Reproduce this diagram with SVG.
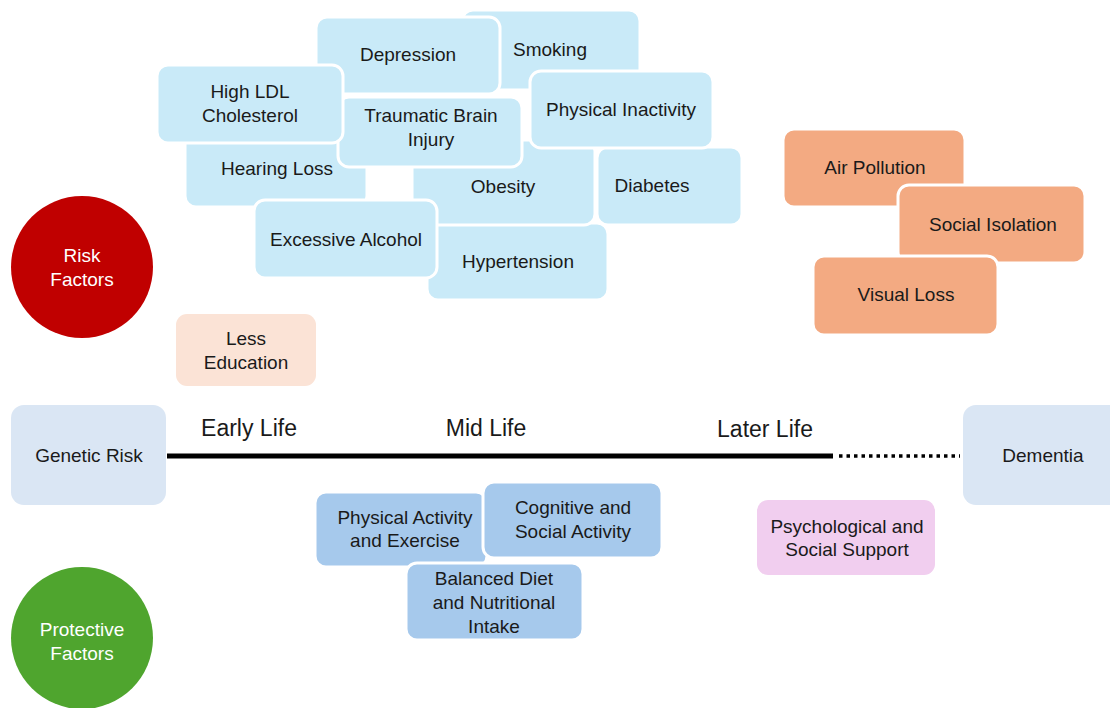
<svg xmlns="http://www.w3.org/2000/svg" width="1110" height="708" viewBox="0 0 1110 708">
<style>
text{font-family:"Liberation Sans",Arial,sans-serif;font-size:19px;fill:#1a1a1a;text-anchor:middle}
.lbl{font-size:23px}
.w{fill:#ffffff}
rect{stroke:#ffffff;stroke-width:3}
.rb{fill:#C9EAF8}
.or{fill:#F3AA82}
.le{fill:#FBE3D6;stroke:none}
.gd{fill:#DAE6F4;stroke:none}
.pb{fill:#A6C9EC}
.ps{fill:#F1CEEF;stroke:none}
</style>
<rect x="0" y="0" width="1110" height="708" fill="#ffffff" stroke="none"/>
<g id="connectors">
<line x1="167" y1="456" x2="833" y2="456" stroke="#000000" stroke-width="5"/>
<line x1="839" y1="456" x2="960" y2="456" stroke="#000000" stroke-width="3.5" stroke-dasharray="3.5 4"/>
</g>
<g id="smoking"><rect class="rb" x="462" y="10" width="178" height="80" rx="11"/><text x="550" y="56">Smoking</text></g>
<g id="depression"><rect class="rb" x="316" y="17" width="184" height="77" rx="11"/><text x="408" y="61">Depression</text></g>
<g id="hearing-loss"><rect class="rb" x="185" y="120" width="182" height="87" rx="11"/><text x="277" y="175">Hearing Loss</text></g>
<g id="hypertension"><rect class="rb" x="427" y="223" width="181" height="77" rx="11"/><text x="518" y="268">Hypertension</text></g>
<g id="obesity"><rect class="rb" x="412" y="140" width="183" height="85" rx="11"/><text x="503" y="193">Obesity</text></g>
<g id="diabetes"><rect class="rb" x="597" y="147" width="145" height="78" rx="11"/><text x="652" y="192">Diabetes</text></g>
<g id="traumatic-brain-injury"><rect class="rb" x="338" y="97" width="184" height="70" rx="11"/><text x="431" y="122">Traumatic Brain</text><text x="431" y="146">Injury</text></g>
<g id="high-ldl"><rect class="rb" x="157" y="65" width="186" height="78" rx="11"/><text x="250" y="98">High LDL</text><text x="250" y="122">Cholesterol</text></g>
<g id="physical-inactivity"><rect class="rb" x="530" y="71" width="183" height="77" rx="11"/><text x="621" y="116">Physical Inactivity</text></g>
<g id="excessive-alcohol"><rect class="rb" x="254" y="200" width="183" height="78" rx="11"/><text x="346" y="246">Excessive Alcohol</text></g>
<g id="air-pollution"><rect class="or" x="783" y="129" width="182" height="78" rx="11"/><text x="875" y="174">Air Pollution</text></g>
<g id="social-isolation"><rect class="or" x="898" y="185" width="187" height="78" rx="11"/><text x="993" y="231">Social Isolation</text></g>
<g id="visual-loss"><rect class="or" x="813" y="256" width="185" height="79" rx="11"/><text x="906" y="301">Visual Loss</text></g>
<g id="risk-factors"><circle cx="82" cy="267" r="71" fill="#C00000"/><text class="w" x="82" y="262">Risk</text><text class="w" x="82" y="286">Factors</text></g>
<g id="less-education"><rect class="le" x="176" y="314" width="140" height="72" rx="11"/><text x="246" y="345">Less</text><text x="246" y="369">Education</text></g>
<g id="genetic-risk"><rect class="gd" x="11" y="405" width="155" height="100" rx="13"/><text x="89" y="462">Genetic Risk</text></g>
<g id="dementia"><rect class="gd" x="963" y="405" width="160" height="100" rx="13"/><text x="1043" y="462">Dementia</text></g>
<g id="stage-labels"><text class="lbl" x="249" y="436">Early Life</text><text class="lbl" x="486" y="436">Mid Life</text><text class="lbl" x="765" y="437">Later Life</text></g>
<g id="physical-activity"><rect class="pb" x="315" y="492" width="172" height="75" rx="11"/><text x="405" y="524">Physical Activity</text><text x="405" y="547">and Exercise</text></g>
<g id="cognitive-social"><rect class="pb" x="483" y="482" width="179" height="76" rx="11"/><text x="573" y="514">Cognitive and</text><text x="573" y="538">Social Activity</text></g>
<g id="balanced-diet"><rect class="pb" x="406" y="563" width="177" height="77" rx="11"/><text x="494" y="585">Balanced Diet</text><text x="494" y="609">and Nutritional</text><text x="494" y="633">Intake</text></g>
<g id="psychological-support"><rect class="ps" x="757" y="500" width="178" height="75" rx="11"/><text x="847" y="533">Psychological and</text><text x="847" y="556">Social Support</text></g>
<g id="protective-factors"><circle cx="82" cy="638" r="71" fill="#4FA52E"/><text class="w" x="82" y="636">Protective</text><text class="w" x="82" y="660">Factors</text></g>
</svg>
